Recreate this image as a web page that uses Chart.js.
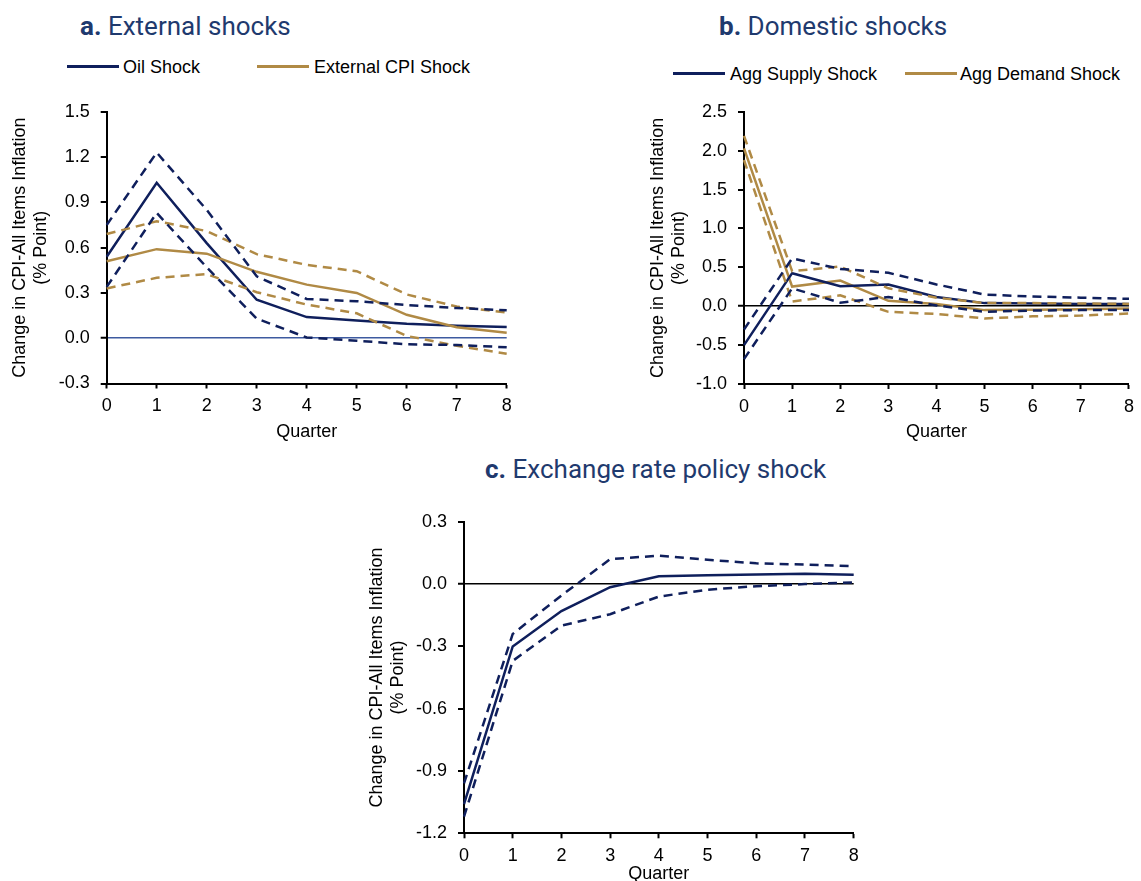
<!DOCTYPE html>
<html>
<head>
<meta charset="utf-8">
<title>Impulse responses of CPI inflation</title>
<script src="https://cdn.jsdelivr.net/npm/chart.js@4.4.0/dist/chart.umd.min.js"></script>
<style>
  body { margin: 0; width: 1141px; height: 881px; overflow: hidden; background: #fff; position: relative;
         font-family: "Liberation Sans", Arial, sans-serif; }
  .panel-title { position: absolute; font-family: Roboto, sans-serif; font-size: 26px; line-height: 30px;
                 color: #1f3a6e; white-space: nowrap; }
  .panel-title b { font-weight: 700; }
  .legend-text { position: absolute; font-size: 18px; line-height: 22px; color: #000; white-space: nowrap; }
  .swatch { position: absolute; height: 3px; width: 52px; }
  canvas { position: absolute; }
</style>
</head>
<body>

<div class="panel-title" style="left:80px; top:11px;"><b>a.</b> External shocks</div>
<div class="swatch" style="left:67px; top:64.5px; background:#0f1f5c;"></div>
<div class="legend-text" style="left:123px; top:55.5px;">Oil Shock</div>
<div class="swatch" style="left:257px; top:64.5px; background:#b08a45;"></div>
<div class="legend-text" style="left:314px; top:55.5px;">External CPI Shock</div>

<div class="panel-title" style="left:719px; top:11px;"><b>b.</b> Domestic shocks</div>
<div class="swatch" style="left:673px; top:71.5px; background:#0f1f5c;"></div>
<div class="legend-text" style="left:730px; top:62.5px;">Agg Supply Shock</div>
<div class="swatch" style="left:905px; top:71.5px; background:#b08a45;"></div>
<div class="legend-text" style="left:960px; top:62.5px;">Agg Demand Shock</div>

<div class="panel-title" style="left:485px; top:453.5px;"><b>c.</b> Exchange rate policy shock</div>

<canvas id="chartA" width="530" height="360" style="left:0px; top:90px;"></canvas>
<canvas id="chartB" width="504" height="360" style="left:637px; top:90px;"></canvas>
<canvas id="chartC" width="524" height="390" style="left:356px; top:500px;"></canvas>

<script>
// quarters after the shock
const quarters = ['0', '1', '2', '3', '4', '5', '6', '7', '8'];

// a. External shocks (solid = response, dashed = bands)
const oilShock      = [0.54, 1.03, 0.63, 0.255, 0.14, 0.118, 0.096, 0.083, 0.075];
const oilUpper      = [0.75, 1.23, 0.85, 0.41, 0.26, 0.245, 0.22, 0.20, 0.185];
const oilLower      = [0.34, 0.83, 0.47, 0.13, 0.005, -0.017, -0.04, -0.045, -0.06];
const extCpiShock   = [0.51, 0.59, 0.56, 0.44, 0.355, 0.30, 0.155, 0.073, 0.036];
const extCpiUpper   = [0.69, 0.775, 0.71, 0.557, 0.486, 0.444, 0.29, 0.21, 0.17];
const extCpiLower   = [0.33, 0.40, 0.425, 0.305, 0.223, 0.165, 0.015, -0.05, -0.103];
const yTicksA       = [-0.3, 0, 0.3, 0.6, 0.9, 1.2, 1.5];

// b. Domestic shocks
const supplyShock   = [-0.5, 0.425, 0.257, 0.278, 0.12, 0.04, 0.035, 0.03, 0.028];
const supplyUpper   = [-0.3, 0.615, 0.48, 0.43, 0.28, 0.15, 0.125, 0.11, 0.095];
const supplyLower   = [-0.68, 0.23, 0.046, 0.12, 0.01, -0.072, -0.055, -0.05, -0.05];
const demandShock   = [2.03, 0.253, 0.33, 0.07, 0.03, -0.05, -0.045, -0.04, -0.03];
const demandUpper   = [2.19, 0.45, 0.51, 0.23, 0.11, 0.04, 0.04, 0.035, 0.03];
const demandLower   = [1.88, 0.06, 0.14, -0.072, -0.1, -0.157, -0.13, -0.12, -0.093];
const yTicksB       = [-1.0, -0.5, 0, 0.5, 1.0, 1.5, 2.0, 2.5];

// c. Exchange rate policy shock
const fxShock       = [-1.06, -0.30, -0.13, -0.015, 0.038, 0.043, 0.046, 0.05, 0.045];
const fxUpper       = [-0.96, -0.24, -0.055, 0.12, 0.137, 0.117, 0.10, 0.094, 0.086];
const fxLower       = [-1.12, -0.37, -0.20, -0.145, -0.06, -0.027, -0.01, 0.0, 0.008];
const yTicksC       = [-1.2, -0.9, -0.6, -0.3, 0, 0.3];

const navy = '#0f1f5c';
const gold = '#b08a45';
const font = { family: '"Liberation Sans", Arial, sans-serif', size: 18 };
const yTitle = ['Change in CPI-All Items Inflation', '(% Point)'];

function line(data, color, dashed) {
    return {
        data: data,
        borderColor: color,
        backgroundColor: color,
        borderWidth: 2.5,
        borderDash: dashed ? [9, 6] : [],
        pointRadius: 0,
        tension: 0,
        fill: false
    };
}

// one panel: y axis width and x axis height are fixed so the plot box lands where it should
function makePanel(id, datasets, yTicks, zeroColor, padding, yWidth, xHeight) {
    const ctx = document.getElementById(id).getContext('2d');
    return new Chart(ctx, {
        type: 'line',
        data: { labels: quarters, datasets: datasets },
        options: {
            responsive: false,
            animation: false,
            layout: { padding: padding },
            plugins: { legend: { display: false }, tooltip: { enabled: false } },
            scales: {
                x: {
                    grid: { drawOnChartArea: false, tickLength: 5, tickColor: '#000', tickWidth: 2 },
                    border: { color: '#000', width: 2 },
                    ticks: { color: '#000', font: font, padding: 7, maxRotation: 0 },
                    title: { display: true, text: 'Quarter', color: '#000', font: font, padding: 0 },
                    afterFit: (scale) => { scale.height = xHeight; }
                },
                y: {
                    min: yTicks[0],
                    max: yTicks[yTicks.length - 1],
                    afterBuildTicks: (scale) => { scale.ticks = yTicks.map(v => ({ value: v })); },
                    grid: {
                        color: (c) => c.tick && c.tick.value === 0 ? zeroColor : 'rgba(0,0,0,0)',
                        lineWidth: (c) => c.tick && c.tick.value === 0 ? 1.5 : 0,
                        tickLength: 6, tickColor: '#000', tickWidth: 2
                    },
                    border: { color: '#000', width: 2 },
                    ticks: { color: '#000', font: font, padding: 11, callback: (v) => Number(v).toFixed(1) },
                    title: { display: true, text: yTitle, color: '#000', font: font, padding: 0 },
                    afterFit: (scale) => { scale.width = yWidth; }
                }
            }
        }
    });
}

makePanel('chartA', [
    line(oilUpper, navy, true), line(oilLower, navy, true),
    line(extCpiUpper, gold, true), line(extCpiLower, gold, true),
    line(extCpiShock, gold, false), line(oilShock, navy, false)
], yTicksA, '#3d5aa0', { left: 9, top: 12.7, right: 23.3, bottom: 7.2 }, 97.7, 59.3);

makePanel('chartB', [
    line(supplyUpper, navy, true), line(supplyLower, navy, true),
    line(demandUpper, gold, true), line(demandLower, gold, true),
    line(supplyShock, navy, false), line(demandShock, gold, false)
], yTicksB, '#000', { left: 10, top: 16.7, right: 7, bottom: 7.2 }, 97, 58.8);

makePanel('chartC', [
    line(fxUpper, navy, true), line(fxLower, navy, true),
    line(fxShock, navy, false)
], yTicksC, '#000', { left: 10, top: 21, right: 26.3, bottom: 5.2 }, 98, 51.5);
</script>
</body>
</html>
